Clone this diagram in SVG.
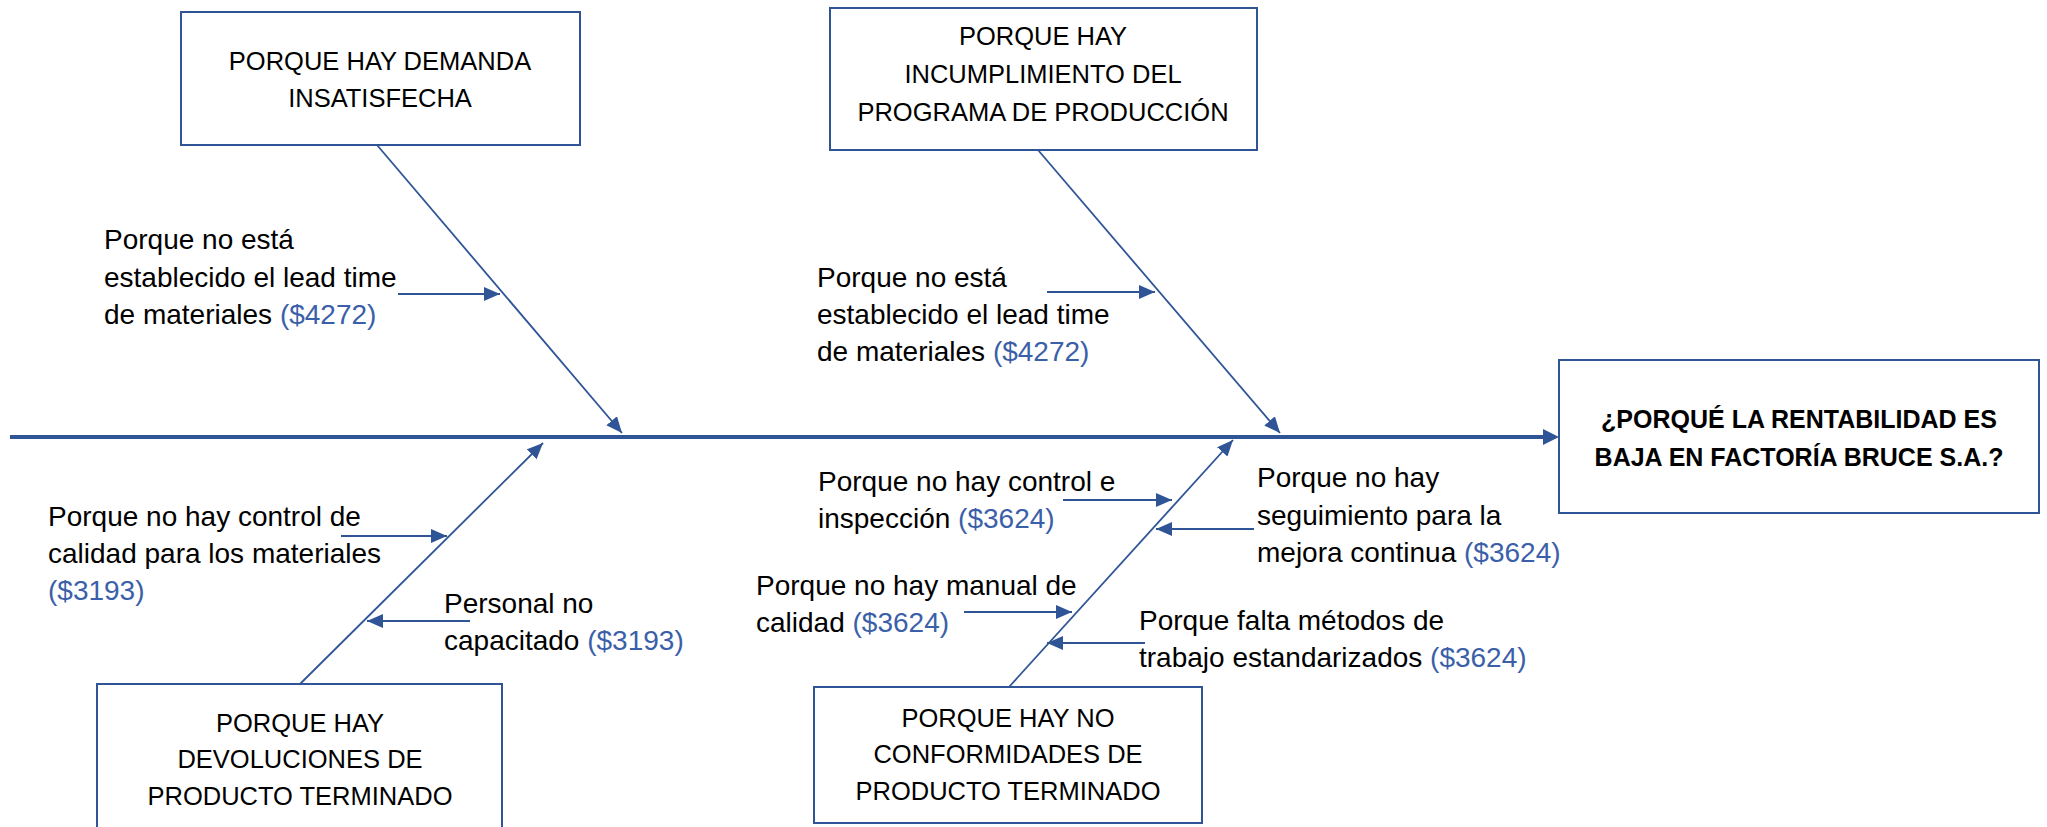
<svg xmlns="http://www.w3.org/2000/svg" width="2047" height="827" viewBox="0 0 2047 827">
<defs>
<style>
.box{fill:#fff;stroke:#2F5597;stroke-width:2}
.bt{font-family:"Liberation Sans",Arial,sans-serif;font-size:25.5px;fill:#000;text-anchor:middle}
.mt{font-family:"Liberation Sans",Arial,sans-serif;font-size:25px;font-weight:bold;fill:#000;text-anchor:middle}
.lt{font-family:"Liberation Sans",Arial,sans-serif;font-size:28px;fill:#000}
.c{fill:#3B5FA8}
.spine{stroke:#2F5597;stroke-width:4;fill:none}
.bone{stroke:#2F5597;stroke-width:1.8;fill:none}
.sub{stroke:#2F5597;stroke-width:2;fill:none}
</style>
<marker id="ah" markerUnits="userSpaceOnUse" markerWidth="16" markerHeight="14" refX="16" refY="7" orient="auto"><path d="M0,0 L16,7 L0,14 z" fill="#2F5597"/></marker>
<marker id="ahm" markerUnits="userSpaceOnUse" markerWidth="16" markerHeight="16" refX="12" refY="8" orient="auto"><path d="M0,0 L16,8 L0,16 z" fill="#2F5597"/></marker>
</defs>
<rect width="2047" height="827" fill="#fff"/>
<g id="connectors">
<line class="spine" x1="10" y1="437" x2="1555" y2="437" marker-end="url(#ahm)"/>
<line class="bone" x1="377" y1="145" x2="622" y2="433" marker-end="url(#ah)"/>
<line class="bone" x1="1038" y1="150" x2="1280" y2="433" marker-end="url(#ah)"/>
<line class="bone" x1="300" y1="684" x2="543" y2="443" marker-end="url(#ah)"/>
<line class="bone" x1="1009" y1="687" x2="1233" y2="440" marker-end="url(#ah)"/>
<line class="sub" x1="398" y1="294" x2="500" y2="294" marker-end="url(#ah)"/>
<line class="sub" x1="1047" y1="292" x2="1155" y2="292" marker-end="url(#ah)"/>
<line class="sub" x1="341" y1="536" x2="447" y2="536" marker-end="url(#ah)"/>
<line class="sub" x1="470" y1="621" x2="367" y2="621" marker-end="url(#ah)"/>
<line class="sub" x1="1063" y1="500" x2="1172" y2="500" marker-end="url(#ah)"/>
<line class="sub" x1="1254" y1="529" x2="1156" y2="529" marker-end="url(#ah)"/>
<line class="sub" x1="964" y1="612" x2="1072" y2="612" marker-end="url(#ah)"/>
<line class="sub" x1="1145" y1="643" x2="1047" y2="643" marker-end="url(#ah)"/>
</g>
<g id="effect">
<rect class="box" x="1559" y="360" width="480" height="153"/>
<text class="mt" x="1799" y="428">¿PORQUÉ LA RENTABILIDAD ES</text>
<text class="mt" x="1799" y="466">BAJA EN FACTORÍA BRUCE S.A.?</text>
</g>
<g id="cause-demanda">
<rect class="box" x="181" y="12" width="399" height="133"/>
<text class="bt" x="380" y="70">PORQUE HAY DEMANDA</text>
<text class="bt" x="380" y="107">INSATISFECHA</text>
</g>
<g id="cause-programa">
<rect class="box" x="830" y="8" width="427" height="142"/>
<text class="bt" x="1043" y="45">PORQUE HAY</text>
<text class="bt" x="1043" y="83">INCUMPLIMIENTO DEL</text>
<text class="bt" x="1043" y="121">PROGRAMA DE PRODUCCIÓN</text>
</g>
<g id="cause-devoluciones">
<rect class="box" x="97" y="684" width="405" height="200"/>
<text class="bt" x="300" y="732">PORQUE HAY</text>
<text class="bt" x="300" y="768">DEVOLUCIONES DE</text>
<text class="bt" x="300" y="805">PRODUCTO TERMINADO</text>
</g>
<g id="cause-noconformidades">
<rect class="box" x="814" y="687" width="388" height="136"/>
<text class="bt" x="1008" y="727">PORQUE HAY NO</text>
<text class="bt" x="1008" y="763">CONFORMIDADES DE</text>
<text class="bt" x="1008" y="800">PRODUCTO TERMINADO</text>
</g>
<g id="label-leadtime-1">
<text class="lt" x="104" y="249">Porque no está</text>
<text class="lt" x="104" y="287">establecido el lead time</text>
<text class="lt" x="104" y="324">de materiales <tspan class="c">($4272)</tspan></text>
</g>
<g id="label-leadtime-2">
<text class="lt" x="817" y="287">Porque no está</text>
<text class="lt" x="817" y="324">establecido el lead time</text>
<text class="lt" x="817" y="361">de materiales <tspan class="c">($4272)</tspan></text>
</g>
<g id="label-control-materiales">
<text class="lt" x="48" y="526">Porque no hay control de</text>
<text class="lt" x="48" y="563">calidad para los materiales</text>
<text class="lt c" x="48" y="600">($3193)</text>
</g>
<g id="label-personal">
<text class="lt" x="444" y="613">Personal no</text>
<text class="lt" x="444" y="650">capacitado <tspan class="c">($3193)</tspan></text>
</g>
<g id="label-inspeccion">
<text class="lt" x="818" y="491">Porque no hay control e</text>
<text class="lt" x="818" y="528">inspección <tspan class="c">($3624)</tspan></text>
</g>
<g id="label-seguimiento">
<text class="lt" x="1257" y="487">Porque no hay</text>
<text class="lt" x="1257" y="525">seguimiento para la</text>
<text class="lt" x="1257" y="562">mejora continua <tspan class="c">($3624)</tspan></text>
</g>
<g id="label-manual">
<text class="lt" x="756" y="595">Porque no hay manual de</text>
<text class="lt" x="756" y="632">calidad <tspan class="c">($3624)</tspan></text>
</g>
<g id="label-metodos">
<text class="lt" x="1139" y="630">Porque falta métodos de</text>
<text class="lt" x="1139" y="667">trabajo estandarizados <tspan class="c">($3624)</tspan></text>
</g>
</svg>
